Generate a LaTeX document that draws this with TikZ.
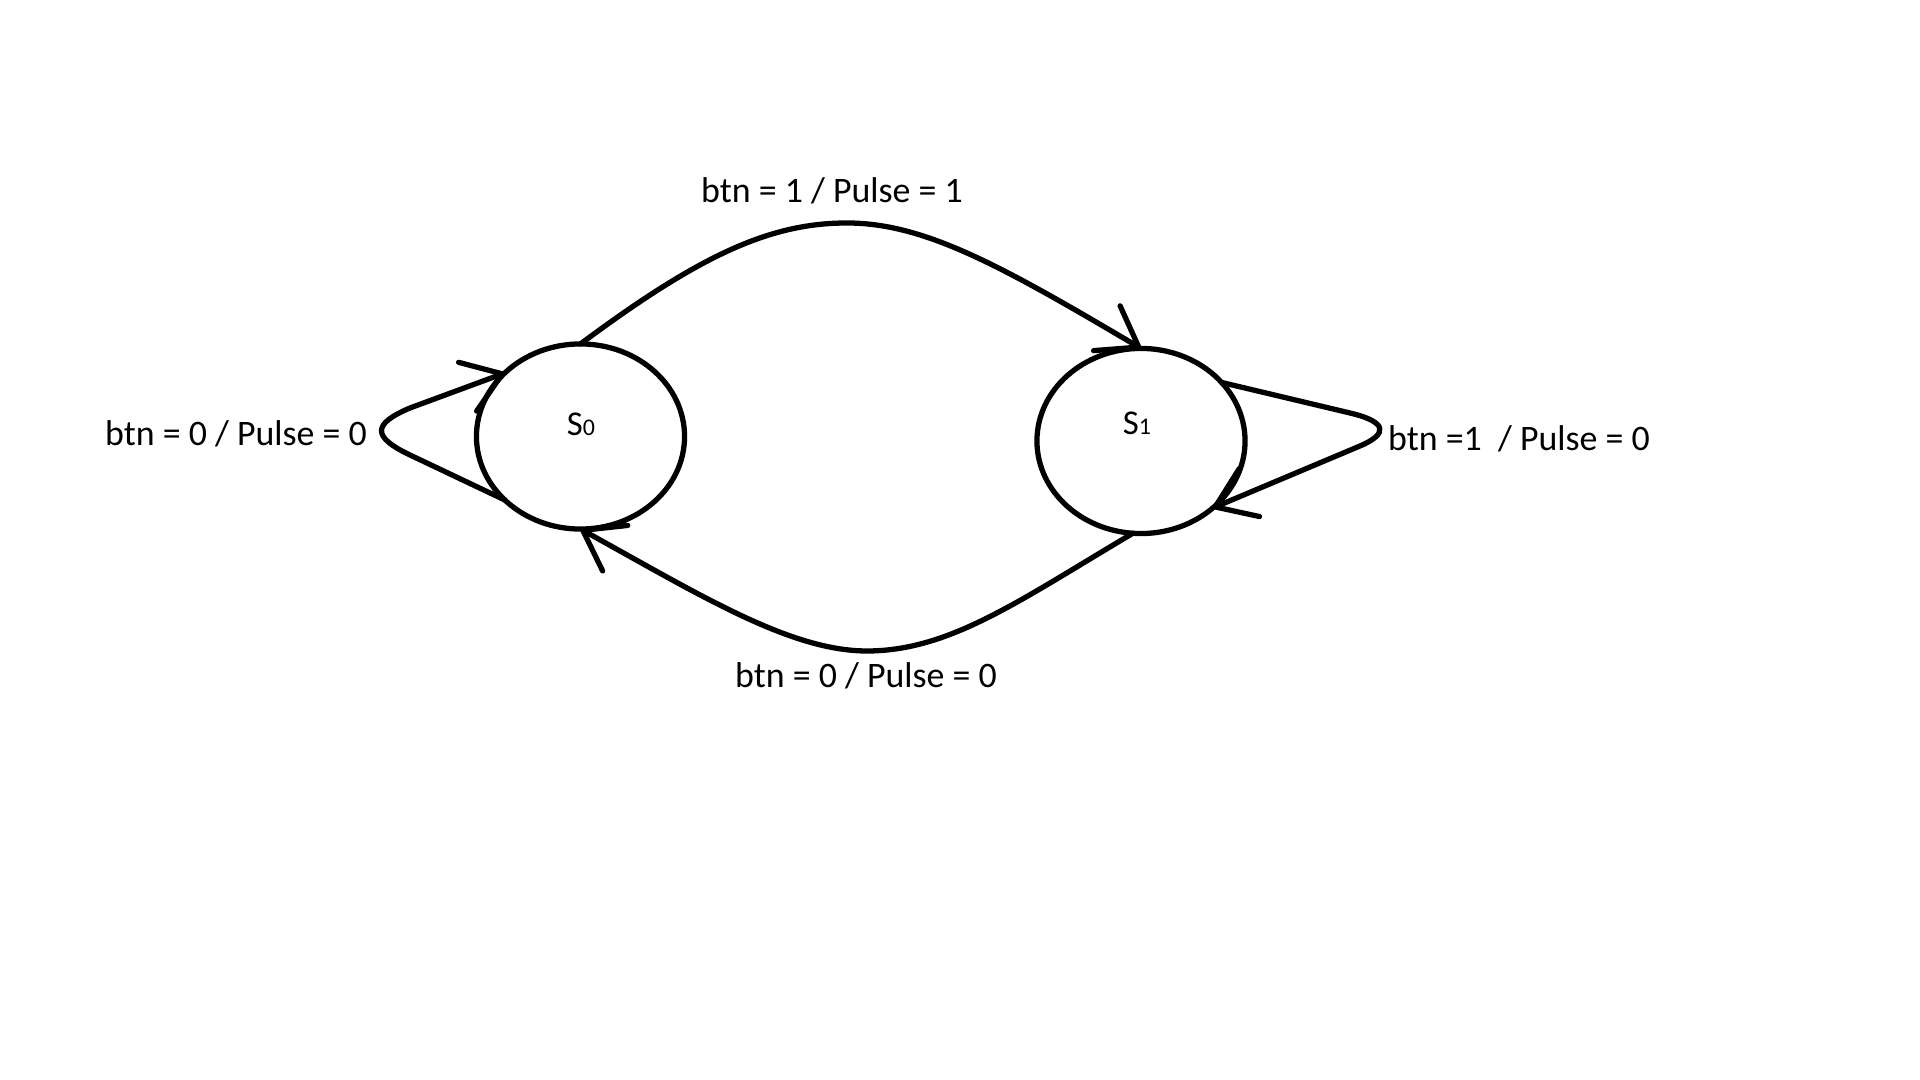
\documentclass[tikz,border=0pt]{standalone}
\usepackage{fontspec}
\setmainfont{Carlito}
\usetikzlibrary{shapes.geometric,arrows.meta}
\tikzset{
  statebox/.style={draw, ellipse, line width=1.5pt, inner sep=0pt, outer sep=0pt,
    minimum width=2.08cm, minimum height=1.85cm},
  edge/.style={line width=1.5pt, line join=round, line cap=round,
    -{Straight Barb[length=0.37cm,width=0.52cm,line cap=round,line join=round]}},
  lbl/.style={font=\fontsize{10.2pt}{12pt}\selectfont, inner sep=0pt},
  slbl/.style={font=\fontsize{9.9pt}{11pt}\selectfont, inner sep=0pt}
}
\newcommand{\smalldig}[1]{{\fontsize{6.8pt}{7pt}\selectfont #1}}
\begin{document}
\begin{tikzpicture}[x=0.01cm,y=-0.01cm]
\useasboundingbox (0,0) rectangle (1920,1080);
\fill[white] (0,0) rectangle (1920,1080);

\node[statebox] (s0) at (580.5,436.5) {};
\node[statebox] (s1) at (1141,441) {};
\node[slbl] (s0t) at (581,424) {S\smalldig{0}};
\node[slbl] (s1t) at (1137,423) {S\smalldig{1}};

% top transition S0 -> S1
\draw[edge] (s0.north) .. controls (700,255) and (770,223) .. (847,223)
  .. controls (924,223) and (1000,265) .. (s1.north);
% bottom transition S1 -> S0
\draw[edge] (s1.265) .. controls (1020,600) and (950,651) .. (867,651)
  .. controls (790,651) and (700,595) .. (s0.south);
% self loop S0
\draw[edge] (s0.220) -- (410,455) .. controls (372,437) and (372,424) .. (410,408) -- (s0.140);
% self loop S1
\draw[edge] (s1.36) -- (1350,413) .. controls (1388,422) and (1388,434) .. (1360,446) -- (s1.317);

\node[lbl] (l01) at (832,191) {btn = 1 / Pulse = 1};
\node[lbl] (l00) at (236,434) {btn = 0 / Pulse = 0};
\node[lbl] (l10) at (866,676) {btn = 0 / Pulse = 0};
\node[lbl] (l11) at (1519,439) {btn =1 \ / Pulse = 0};
\end{tikzpicture}
\end{document}
